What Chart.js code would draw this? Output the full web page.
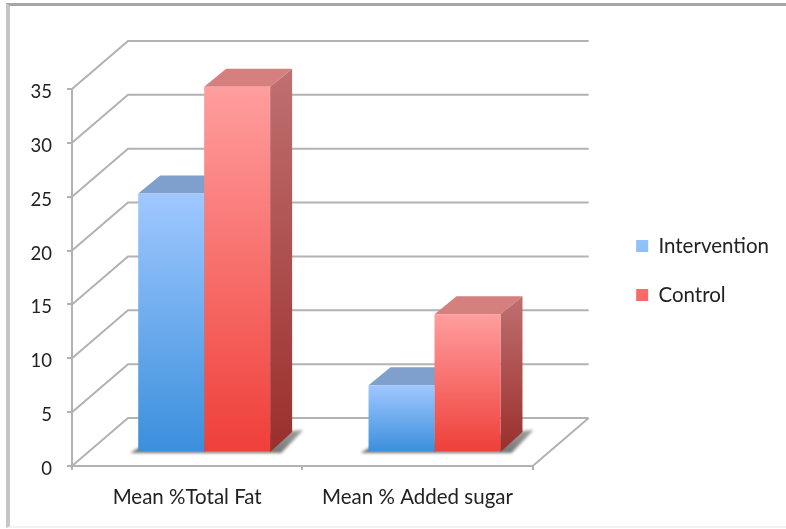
<!DOCTYPE html>
<html>
<head>
<meta charset="utf-8">
<style>
  html, body { margin: 0; padding: 0; background: #fff; }
  #wrap { position: relative; width: 786px; height: 529px; overflow: hidden; }
  #myChart { display: block; }
  #frame { position: absolute; left: 6px; top: 3px; right: 0; bottom: 1px; border-left: 4px solid #c6c6c6; border-top: 3px solid #a6a6a6; border-bottom: 2px solid #f3f3f3; pointer-events: none; }
</style>
</head>
<body>
<div id="wrap">
  <canvas id="myChart" width="786" height="529"></canvas>
  <div id="frame"></div>
</div>
<script src="https://cdn.jsdelivr.net/npm/chart.js@4"></script>
<script>
const categories = ['Mean %Total Fat', 'Mean % Added sugar'];
const intervention = [24, 6.2];
const control = [33.9, 12.8];
const yTicks = [0, 5, 10, 15, 20, 25, 30, 35];

// chart box depth: back wall offset, and how far the bars sit inside the floor
const wallDx = 56, wallDy = 48;
const barDx = 17, barDy = 14;
const faceDx = 22, faceDy = 18, floorDy = 20;

const ctx = document.getElementById('myChart');
const fontFamily = 'Lato, "Open Sans", sans-serif';
const gridColor = '#b2b2b2';

// vertical gradient for the front of a bar, from its own top to the floor
// the legend asks for its colour before the y scale has a size, it gets the flat one
function frontGradient(context, top, bottom, flat) {
	const scaleY = context.chart.scales.y;
	const y1 = scaleY.getPixelForValue(context.parsed ? context.parsed.y : NaN);
	const y2 = scaleY.getPixelForValue(0);
	if (!isFinite(y1) || !isFinite(y2)) return flat;
	const g = context.chart.ctx.createLinearGradient(0, y1, 0, y2);
	g.addColorStop(0, top);
	g.addColorStop(1, bottom);
	return g;
}

function poly(c, pts, fill) {
	c.fillStyle = fill;
	c.beginPath();
	c.moveTo(pts[0][0], pts[0][1]);
	for (let i = 1; i < pts.length; i++) c.lineTo(pts[i][0], pts[i][1]);
	c.closePath();
	c.fill();
}

const walls = {
	id: 'walls',
	beforeDatasetsDraw(chart) {
		const c = chart.ctx;
		const { x, y } = chart.scales;
		const left = x.left, right = x.right;
		c.save();
		c.strokeStyle = gridColor;
		c.lineWidth = 2;
		c.beginPath();
		// gridlines on the left wall and the back wall
		yTicks.forEach((t) => {
			const py = y.getPixelForValue(t);
			c.moveTo(left, py);
			c.lineTo(left + wallDx, py - wallDy);
			c.lineTo(right + wallDx, py - wallDy);
		});
		// right edge of the floor
		const base = y.getPixelForValue(0);
		c.moveTo(right, base);
		c.lineTo(right + wallDx, base - wallDy);
		c.stroke();
		c.restore();
	}
};

// the top and side faces and the floor shadow of each bar
const barFaces = {
	id: 'barFaces',
	beforeDatasetsDraw(chart) {
		const c = chart.ctx;
		const topColors = ['#7f9fcc', '#d67f7f'];
		const sideTop = ['#6f8fb8', '#bf7070'];
		const sideBottom = ['#2f6aa0', '#9a2f2c'];
		const y0 = chart.scales.y.getPixelForValue(0) - barDy;

		// shadows first
		c.save();
		c.filter = 'blur(1.5px)';
		chart.getDatasetMeta(1).data.forEach((bar, j) => {
			const blue = chart.getDatasetMeta(0).data[j];
			const l = blue.x - blue.width / 2 + barDx;
			const r = bar.x + bar.width / 2 + barDx;
			const g = c.createLinearGradient(0, y0 - floorDy, 0, y0);
			g.addColorStop(0, '#9a9a9a');
			g.addColorStop(1, '#777');
			poly(c, [[l - 8, y0 + 1], [l, y0 - 4], [r + faceDx, y0 - floorDy - 1], [r + faceDx + 11, y0 - floorDy - 2], [r + 11, y0 + 1]], g);
		});
		c.restore();

		[0, 1].forEach((d) => {
			chart.getDatasetMeta(d).data.forEach((bar) => {
				const l = bar.x - bar.width / 2 + barDx;
				const r = bar.x + bar.width / 2 + barDx;
				const t = bar.y - barDy;
				poly(c, [[l, t], [r, t], [r + faceDx, t - faceDy], [l + faceDx, t - faceDy]], topColors[d]);
				const g = c.createLinearGradient(0, t - faceDy, 0, y0);
				g.addColorStop(0, sideTop[d]);
				g.addColorStop(1, sideBottom[d]);
				poly(c, [[r, t], [r + faceDx, t - faceDy], [r + faceDx, y0 - floorDy], [r, y0]], g);
			});
		});
	}
};

// shifts the native bars onto the floor, away from the front axis
const barShift = {
	id: 'barShift',
	beforeDatasetsDraw(chart) {
		chart.ctx.save();
		chart.ctx.translate(barDx, -barDy);
	},
	afterDatasetsDraw(chart) {
		chart.ctx.restore();
	}
};

new Chart(ctx, {
	type: 'bar',
	data: {
		labels: categories,
		datasets: [{
			label: 'Intervention',
			data: intervention,
			borderWidth: 0,
			backgroundColor: (context) => frontGradient(context, '#a0c8ff', '#3a8fdc', '#6ca8ed')
		}, {
			label: 'Control',
			data: control,
			borderWidth: 0,
			backgroundColor: (context) => frontGradient(context, '#ff9e9e', '#ef3f39', '#f86e6c')
		}]
	},
	options: {
		responsive: false,
		animation: false,
		categoryPercentage: 0.5727,
		barPercentage: 1,
		layout: { padding: { top: 12, left: 0, right: 7, bottom: 0 } },
		scales: {
			x: {
				grid: { drawOnChartArea: false, color: gridColor, tickLength: 4, lineWidth: 2 },
				border: { color: gridColor, width: 2 },
				ticks: { color: '#222', font: { family: fontFamily, size: 20.5 }, padding: 15, maxRotation: 0 },
				afterFit(scale) { scale.height = 63; }
			},
			y: {
				min: 0,
				max: 35,
				grid: { drawOnChartArea: false, color: gridColor, tickLength: 5, lineWidth: 2 },
				border: { color: gridColor, width: 2 },
				ticks: { stepSize: 5, color: '#222', font: { family: fontFamily, size: 18.5 }, padding: 15, labelOffset: 3 },
				afterFit(scale) { scale.width = 72; }
			},
			// empty axes: room above the plot and between the plot and the legend
			gapTop: {
				type: 'linear',
				axis: 'x',
				position: 'top',
				grid: { display: false },
				border: { display: false },
				ticks: { display: false },
				afterFit(scale) { scale.height = 77; }
			},
			gapRight: {
				type: 'linear',
				axis: 'y',
				position: 'right',
				grid: { display: false },
				border: { display: false },
				ticks: { display: false },
				afterFit(scale) { scale.width = 75; }
			}
		},
		plugins: {
			tooltip: { enabled: false },
			legend: {
				position: 'right',
				maxWidth: 180,
				labels: {
					color: '#222',
					font: { family: fontFamily, size: 20.5 },
					boxWidth: 12,
					boxHeight: 12,
					padding: 28.5
				}
			}
		}
	},
	plugins: [walls, barFaces, barShift]
});
</script>
</body>
</html>
